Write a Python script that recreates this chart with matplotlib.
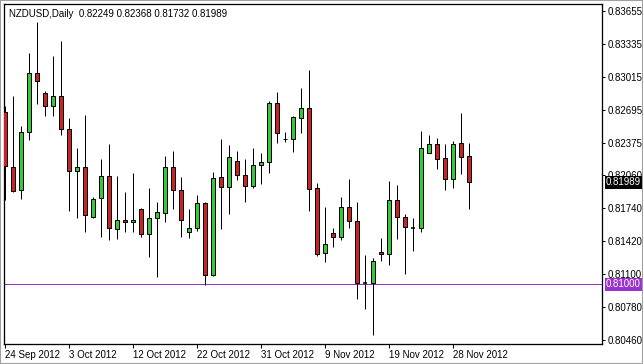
import matplotlib
matplotlib.use("Agg")
import matplotlib.pyplot as plt
import matplotlib.transforms as mtransforms
from matplotlib.patches import Rectangle

# daily OHLC, NZDUSD, 24 Sep 2012 .. 30 Nov 2012 (MT4 style, sunday bars included)
opens = [0.82674, 0.82139, 0.81916, 0.82479, 0.83052, 0.82858, 0.82732, 0.82829,
         0.82508, 0.82101, 0.82139, 0.81654, 0.81839, 0.82052, 0.81537, 0.81625,
         0.81605, 0.81732, 0.81489, 0.81644, 0.81693, 0.82139, 0.81916, 0.81508,
         0.81547, 0.81790, 0.81091, 0.82042, 0.81945, 0.82198, 0.82062, 0.81955,
         0.82159, 0.82188, 0.82761, 0.82411, 0.82411, 0.82615, 0.82712, 0.81936,
         0.81304, 0.81499, 0.81460, 0.81751, 0.81615, 0.81013, 0.81013, 0.81314,
         0.81296, 0.81819, 0.81654, 0.81547, 0.81547, 0.82275, 0.82363, 0.82227,
         0.82023, 0.82373, 0.82249]
highs = [0.82732, 0.82829, 0.82538, 0.83246, 0.83547, 0.82877, 0.83217, 0.83363,
         0.82615, 0.82324, 0.82644, 0.81848, 0.82217, 0.82363, 0.82052, 0.81897,
         0.82081, 0.81741, 0.81936, 0.81800, 0.82246, 0.82295, 0.82042, 0.81732,
         0.81868, 0.81800, 0.82091, 0.82411, 0.82353, 0.82295, 0.82217, 0.82324,
         0.82275, 0.82780, 0.82868, 0.82479, 0.82635, 0.82907, 0.83081, 0.81984,
         0.81751, 0.81547, 0.81848, 0.82023, 0.81800, 0.81285, 0.81256, 0.81450,
         0.82003, 0.81965, 0.81683, 0.81644, 0.82489, 0.82450, 0.82421, 0.82363,
         0.82392, 0.82664, 0.82368]
lows = [0.81819, 0.81897, 0.81829, 0.82402, 0.82751, 0.82635, 0.82635, 0.82450,
        0.81712, 0.81644, 0.81508, 0.81644, 0.81460, 0.81431, 0.81440, 0.81508,
        0.81508, 0.81460, 0.81266, 0.81071, 0.81605, 0.81732, 0.81460, 0.81450,
        0.81518, 0.80994, 0.81081, 0.81537, 0.81683, 0.82013, 0.81800, 0.81936,
        0.81974, 0.82081, 0.82373, 0.82382, 0.82285, 0.82470, 0.81712, 0.81275,
        0.81217, 0.81363, 0.81431, 0.81547, 0.80858, 0.80761, 0.80508, 0.81227,
        0.81188, 0.81440, 0.81101, 0.81324, 0.81508, 0.82275, 0.82120, 0.81916,
        0.81936, 0.82071, 0.81732]
closes = [0.82149, 0.81906, 0.82479, 0.83052, 0.82975, 0.82732, 0.82829, 0.82508,
          0.82101, 0.82139, 0.81673, 0.81829, 0.82052, 0.81547, 0.81625, 0.81605,
          0.81625, 0.81489, 0.81644, 0.81703, 0.82139, 0.81916, 0.81625, 0.81547,
          0.81790, 0.81091, 0.82033, 0.81945, 0.82237, 0.82062, 0.81955, 0.82159,
          0.82188, 0.82761, 0.82470, 0.82415, 0.82625, 0.82712, 0.81926, 0.81296,
          0.81392, 0.81460, 0.81751, 0.81615, 0.81013, 0.81010, 0.81227, 0.81296,
          0.81819, 0.81654, 0.81557, 0.81550, 0.82324, 0.82363, 0.82217, 0.82023,
          0.82363, 0.82237, 0.81989]

date_pos = [0, 8, 16, 24, 32, 40, 48, 56]
date_labels = ["24 Sep 2012", "3 Oct 2012", "12 Oct 2012", "22 Oct 2012",
               "31 Oct 2012", "9 Nov 2012", "19 Nov 2012", "28 Nov 2012"]
price_ticks = [0.83655, 0.83335, 0.83015, 0.82695, 0.82375, 0.82060,
               0.81740, 0.81420, 0.81100, 0.80780, 0.80460]
level = 0.81000
title = "NZDUSD,Daily  0.82249 0.82368 0.81732 0.81989"

plt.rcParams['font.family'] = ['Liberation Sans', 'DejaVu Sans']

fig = plt.figure(figsize=(6.43, 3.64), dpi=100)
fig.patch.set_facecolor('white')
ax = fig.add_axes([4 / 643, 20 / 364, 598 / 643, 340 / 364])

px = 0.72  # one pixel in points
up_col = '#33cc33'
down_col = '#cc2222'

n = len(opens)
xs = list(range(n))
ax.vlines(xs, lows, highs, color='black', lw=px, zorder=2)
for i in xs:
    o, c = opens[i], closes[i]
    col = up_col if c >= o else down_col
    h = abs(c - o)
    if h < 0.00004:
        ax.hlines((o + c) / 2, i - 0.31, i + 0.31, color='black', lw=px * 1.6, zorder=3)
    else:
        ax.bar(i, h, bottom=min(o, c), width=0.62, color=col,
               edgecolor='black', linewidth=px, zorder=3)

ax.axhline(level, color='#9933bb', lw=px, zorder=1)

ax.set_xlim(-0.125, 74.625)
ax.set_ylim(0.80421, 0.83722)

ax.set_xticks(date_pos)
ax.set_xticklabels(date_labels, fontsize=7, ha='left')
off = mtransforms.ScaledTranslation(1 / 100, 0, fig.dpi_scale_trans)
for lab in ax.get_xticklabels():
    lab.set_transform(lab.get_transform() + off)
ax.tick_params(axis='x', direction='out', length=3, width=px, pad=1.5)

ax.yaxis.tick_right()
ax.set_yticks(price_ticks)
ax.set_yticklabels([f"{p:.5f}" for p in price_ticks], fontsize=7)
ax.tick_params(axis='y', direction='out', length=2.5, width=px, pad=1.5)

for s in ax.spines.values():
    s.set_linewidth(px * 1.3)
    s.set_color('black')

ax.text(5 / 598, 1 - 5 / 340, title, transform=ax.transAxes, fontsize=7,
        va='top', ha='left')

# price markers on the right scale
trans = mtransforms.blended_transform_factory(ax.transAxes, ax.transData)
ax.text(1.0 + 4 / 598, closes[-1], f"{closes[-1]:.5f}", transform=trans,
        fontsize=7, color='white', va='center', ha='left', zorder=5,
        bbox=dict(boxstyle='square,pad=0.12', fc='black', ec='none'),
        clip_on=False)
ax.text(1.0 + 4 / 598, level, f"{level:.5f}", transform=trans,
        fontsize=7, color='white', va='center', ha='left', zorder=5,
        bbox=dict(boxstyle='square,pad=0.12', fc='#9933cc', ec='none'),
        clip_on=False)

fig.patches.append(Rectangle((0, 0), 1, 1, transform=fig.transFigure, fill=False,
                             edgecolor='#a0a0a0', lw=1.5))

fig.savefig("out.png", dpi=100)
